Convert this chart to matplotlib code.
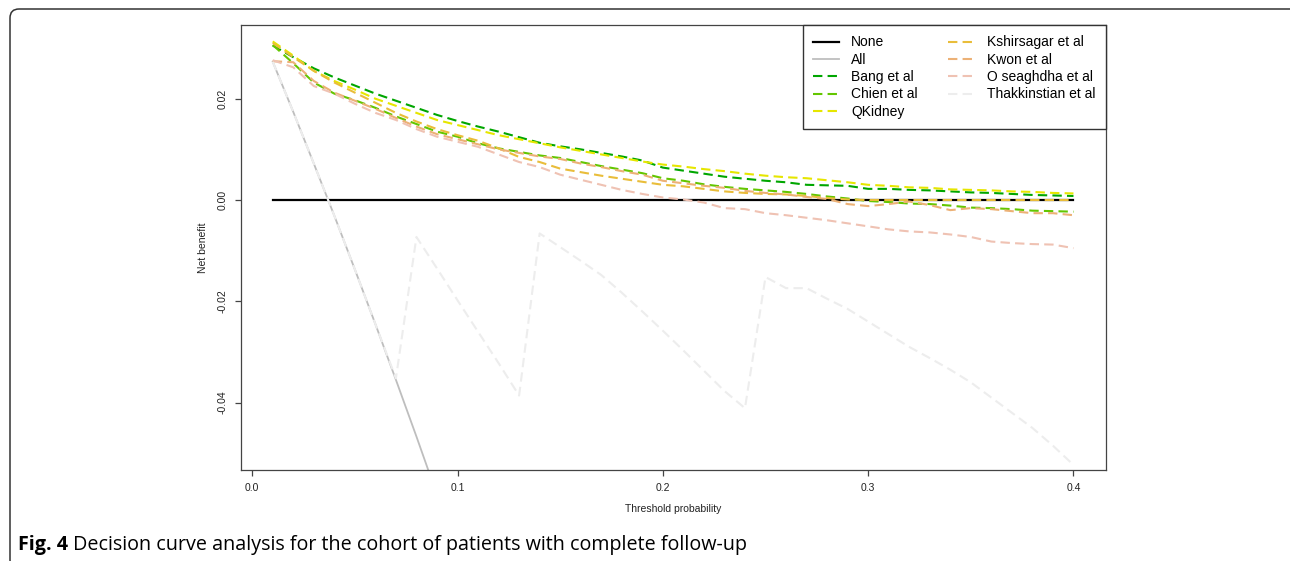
import numpy as np
import matplotlib
matplotlib.use("Agg")
import matplotlib.pyplot as plt
from matplotlib.patches import FancyBboxPatch
from matplotlib.transforms import IdentityTransform

# threshold probabilities 0.01 .. 0.40
thresholds = [0.01, 0.02, 0.03, 0.04, 0.05, 0.06, 0.07, 0.08, 0.09, 0.10,
              0.11, 0.12, 0.13, 0.14, 0.15, 0.16, 0.17, 0.18, 0.19, 0.20,
              0.21, 0.22, 0.23, 0.24, 0.25, 0.26, 0.27, 0.28, 0.29, 0.30,
              0.31, 0.32, 0.33, 0.34, 0.35, 0.36, 0.37, 0.38, 0.39, 0.40]

nb_none = [0.0] * 40
# treat all (only the visible part, it leaves the plot below -0.05)
all_x = [0.01, 0.02, 0.03, 0.04, 0.05, 0.06, 0.07, 0.08, 0.09, 0.10]
nb_all = [0.0273, 0.0174, 0.0072, -0.0031, -0.0137, -0.0245, -0.0355, -0.0467, -0.0582, -0.0700]

nb_bang = [0.0305, 0.0282, 0.0260, 0.0242, 0.0226, 0.0210, 0.0196, 0.0182, 0.0168, 0.0156,
           0.0145, 0.0135, 0.0124, 0.0113, 0.0106, 0.0100, 0.0093, 0.0086, 0.0078, 0.0064,
           0.0058, 0.0052, 0.0046, 0.0042, 0.0038, 0.0035, 0.0030, 0.0029, 0.0028, 0.0022,
           0.0022, 0.0020, 0.0019, 0.0017, 0.0015, 0.0014, 0.0012, 0.0010, 0.0009, 0.0008]
nb_chien = [0.0306, 0.0270, 0.0232, 0.0210, 0.0197, 0.0182, 0.0165, 0.0150, 0.0135, 0.0125,
            0.0112, 0.0102, 0.0095, 0.0088, 0.0083, 0.0075, 0.0067, 0.0060, 0.0053, 0.0043,
            0.0038, 0.0031, 0.0026, 0.0022, 0.0019, 0.0016, 0.0012, 0.0007, 0.0003, -0.0002,
            -0.0004, -0.0007, -0.0008, -0.0011, -0.0015, -0.0016, -0.0018, -0.0021, -0.0022, -0.0023]
nb_qkidney = [0.0313, 0.0285, 0.0255, 0.0235, 0.0218, 0.0200, 0.0186, 0.0172, 0.0158, 0.0148,
              0.0138, 0.0128, 0.0120, 0.0112, 0.0104, 0.0097, 0.0090, 0.0083, 0.0076, 0.0070,
              0.0066, 0.0061, 0.0057, 0.0052, 0.0048, 0.0045, 0.0043, 0.0039, 0.0035, 0.0030,
              0.0028, 0.0025, 0.0024, 0.0021, 0.0020, 0.0019, 0.0017, 0.0016, 0.0014, 0.0013]
nb_kshirsagar = [0.0310, 0.0282, 0.0255, 0.0232, 0.0212, 0.0192, 0.0172, 0.0155, 0.0140, 0.0128,
                 0.0117, 0.0102, 0.0085, 0.0075, 0.0062, 0.0055, 0.0048, 0.0042, 0.0036, 0.0030,
                 0.0027, 0.0022, 0.0017, 0.0014, 0.0012, 0.0011, 0.0008, 0.0004, 0.0001, 0.0000,
                 0.0000, 0.0000, 0.0000, 0.0000, 0.0000, 0.0000, 0.0000, 0.0000, 0.0000, 0.0000]
nb_kwon = [0.0274, 0.0272, 0.0235, 0.0212, 0.0196, 0.0180, 0.0162, 0.0145, 0.0130, 0.0120,
           0.0110, 0.0100, 0.0093, 0.0086, 0.0081, 0.0072, 0.0065, 0.0057, 0.0050, 0.0038,
           0.0033, 0.0028, 0.0024, 0.0018, 0.0014, 0.0011, 0.0006, 0.0002, -0.0008, -0.0012,
           -0.0008, -0.0003, -0.0010, -0.0020, -0.0016, -0.0018, -0.0022, -0.0026, -0.0026, -0.0030]
nb_oseaghdha = [0.0276, 0.0262, 0.0225, 0.0210, 0.0190, 0.0172, 0.0158, 0.0140, 0.0125, 0.0115,
                0.0105, 0.0090, 0.0075, 0.0065, 0.0050, 0.0040, 0.0030, 0.0020, 0.0012, 0.0005,
                0.0001, -0.0005, -0.0016, -0.0018, -0.0026, -0.0030, -0.0035, -0.0040, -0.0046, -0.0052,
                -0.0058, -0.0062, -0.0064, -0.0068, -0.0073, -0.0082, -0.0085, -0.0087, -0.0088, -0.0095]
nb_thakkinstian = [0.0273, 0.0174, 0.0072, -0.0031, -0.0137, -0.0245, -0.0352, -0.0073, -0.0135, -0.0198,
                   -0.0260, -0.0322, -0.0386, -0.0066, -0.0093, -0.0120, -0.0148, -0.0183, -0.0220, -0.0258,
                   -0.0297, -0.0337, -0.0377, -0.0411, -0.0152, -0.0174, -0.0174, -0.0195, -0.0215, -0.0240,
                   -0.0265, -0.0290, -0.0312, -0.0335, -0.0360, -0.0390, -0.0420, -0.0450, -0.0485, -0.0523]

model_names = ["Bang et al", "Chien et al", "QKidney", "Kshirsagar et al",
               "Kwon et al", "O seaghdha et al", "Thakkinstian et al"]
model_colors = ["#00A600", "#63C600", "#E6E600", "#E9BD3A", "#ECB176", "#EFC2B3", "#EDEDED"]
model_values = [nb_bang, nb_chien, nb_qkidney, nb_kshirsagar, nb_kwon, nb_oseaghdha, nb_thakkinstian]

plt.rcParams['font.family'] = ['Liberation Sans', 'DejaVu Sans']

fig = plt.figure(figsize=(12.9, 5.61), dpi=100)
ax = fig.add_axes([240.7/1290, 1-470/561, (1105.5-240.7)/1290, (470-25)/561])

ax.plot(thresholds, nb_none, color='black', lw=1.6, label='None')
ax.plot(all_x, nb_all, color='#BEBEBE', lw=1.3, label='All')
for name, col, vals in zip(model_names, model_colors, model_values):
    ax.plot(thresholds, vals, color=col, lw=1.5, dashes=(4.5, 2.5), label=name)

ax.set_xlim(-0.0056, 0.4156)
ax.set_ylim(-0.0533, 0.03455)
ax.set_xticks([0.0, 0.1, 0.2, 0.3, 0.4])
ax.set_xticklabels(['0.0', '0.1', '0.2', '0.3', '0.4'])
ax.set_yticks([-0.04, -0.02, 0.0, 0.02])
ax.set_yticklabels(['-0.04', '-0.02', '0.00', '0.02'], rotation=90, va='center')
ax.tick_params(direction='out', length=4.5, width=0.9, color='#444444',
               labelsize=7.5, pad=5, labelcolor='#222222')
for s in ax.spines.values():
    s.set_color('#444444')
    s.set_linewidth(0.9)
ax.set_xlabel('Threshold probability', fontsize=7.5, labelpad=8, color='#222222')
ax.set_ylabel('Net benefit', fontsize=7.5, labelpad=7, color='#222222')

leg = ax.legend(ncol=2, loc='upper right', borderaxespad=0, fontsize=10,
                fancybox=False, edgecolor='#333333', handlelength=1.9,
                handletextpad=0.85, columnspacing=2.2, labelspacing=0.24,
                borderpad=0.75, framealpha=1)
leg.get_frame().set_linewidth(1.0)

# figure frame with rounded corners (pixels)
frame = FancyBboxPatch((10, -8), 1300, 561 - 9 + 8, boxstyle="round,pad=0,rounding_size=9",
                       transform=IdentityTransform(), fill=False, edgecolor='#333333', lw=1.1)
fig.patches.append(frame)

t1 = fig.text(18/1290, 1-550/561, 'Fig. 4', fontsize=14.2, fontweight='bold',
              family=['Open Sans', 'DejaVu Sans'], va='baseline')
ax.annotate(' Decision curve analysis for the cohort of patients with complete follow-up',
            xy=(1, 0), xycoords=t1, va='bottom', fontsize=14.2,
            family=['Open Sans', 'DejaVu Sans'])

fig.savefig('out.png', dpi=100)
